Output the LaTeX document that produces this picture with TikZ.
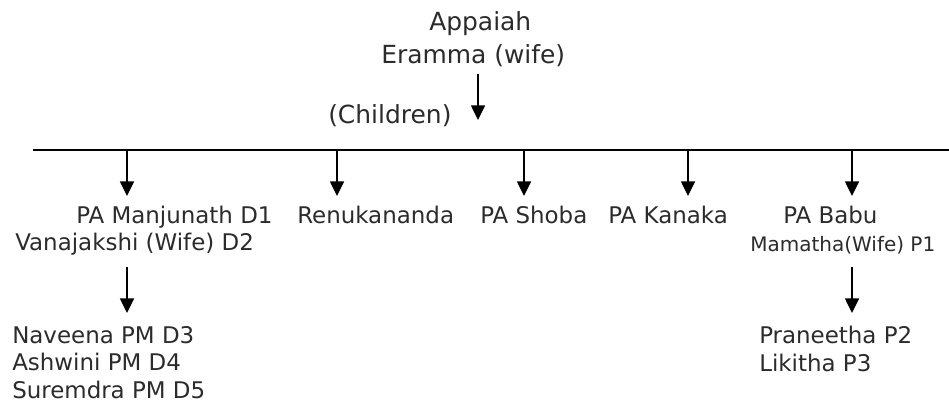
\documentclass[tikz,border=0pt]{standalone}
\usepackage{fontspec}
\setmainfont{DejaVu Sans}
\usetikzlibrary{arrows.meta}

\definecolor{txtgray}{RGB}{43,43,43}
\tikzset{
  famtext/.style={anchor=base west, inner sep=0.75pt, text=txtgray, font=\fontsize{17.2}{20}\selectfont},
  famtop/.style={famtext, font=\fontsize{18.7}{22}\selectfont},
  famsmall/.style={famtext, font=\fontsize{15}{18}\selectfont},
  descend/.style={line width=1.1pt, -{Triangle[length=11pt,width=10.5pt]}},
}

\begin{document}
\begin{tikzpicture}[x=0.75pt,y=0.75pt,yscale=-1]
\useasboundingbox (0,0) rectangle (949,405);

%Parents
\draw (428,30) node (appaiah) [famtop] {Appaiah};
\draw (380,63) node (eramma) [famtop] {Eramma (wife)};
\draw (327,123) node (children) [famtop] {(Children)};
\coordinate (pa) at (478,74);
\coordinate (kids) at (478,120);
\draw [descend] (pa) -- (kids);

%Straight Lines (bar)
\coordinate (barw) at (33,150);
\coordinate (bare) at (949,150);
\draw [line width=1.2pt] (barw) -- (bare);

%Children arrows
\coordinate (c1) at (127,196);
\coordinate (c2) at (337,196);
\coordinate (c3) at (524,196);
\coordinate (c4) at (688,196);
\coordinate (c5) at (852,196);
\foreach \c in {c1,c2,c3,c4,c5}
  \draw [descend] (\c |- barw) -- (\c);

% Text Node
\draw (75,223) node (manjunath) [famtext] {PA Manjunath D1};
\draw (14,250) node (vanajakshi) [famtext] {Vanajakshi (Wife) D2};
\draw (296,223) node (renukananda) [famtext] {Renukananda};
\draw (479,223) node (shoba) [famtext] {PA Shoba};
\draw (607,223) node (kanaka) [famtext] {PA Kanaka};
\draw (782,223) node (babu) [famtext] {PA Babu};
\draw (749,251) node (mamatha) [famsmall] {Mamatha(Wife) P1};

%Grandchildren arrows
\coordinate (g1) at (127,313);
\coordinate (g2) at (852,313);
\draw [descend] (g1 |- 0,267) -- (g1);
\draw [descend] (g2 |- 0,267) -- (g2);

% Text Node
\draw (11,343) node (naveena) [famtext] {Naveena PM D3};
\draw (11,370) node (ashwini) [famtext] {Ashwini PM D4};
\draw (11,398) node (suremdra) [famtext] {Suremdra PM D5};
\draw (758,343) node (praneetha) [famtext] {Praneetha P2};
\draw (758,371) node (likitha) [famtext] {Likitha P3};
\end{tikzpicture}
\end{document}
